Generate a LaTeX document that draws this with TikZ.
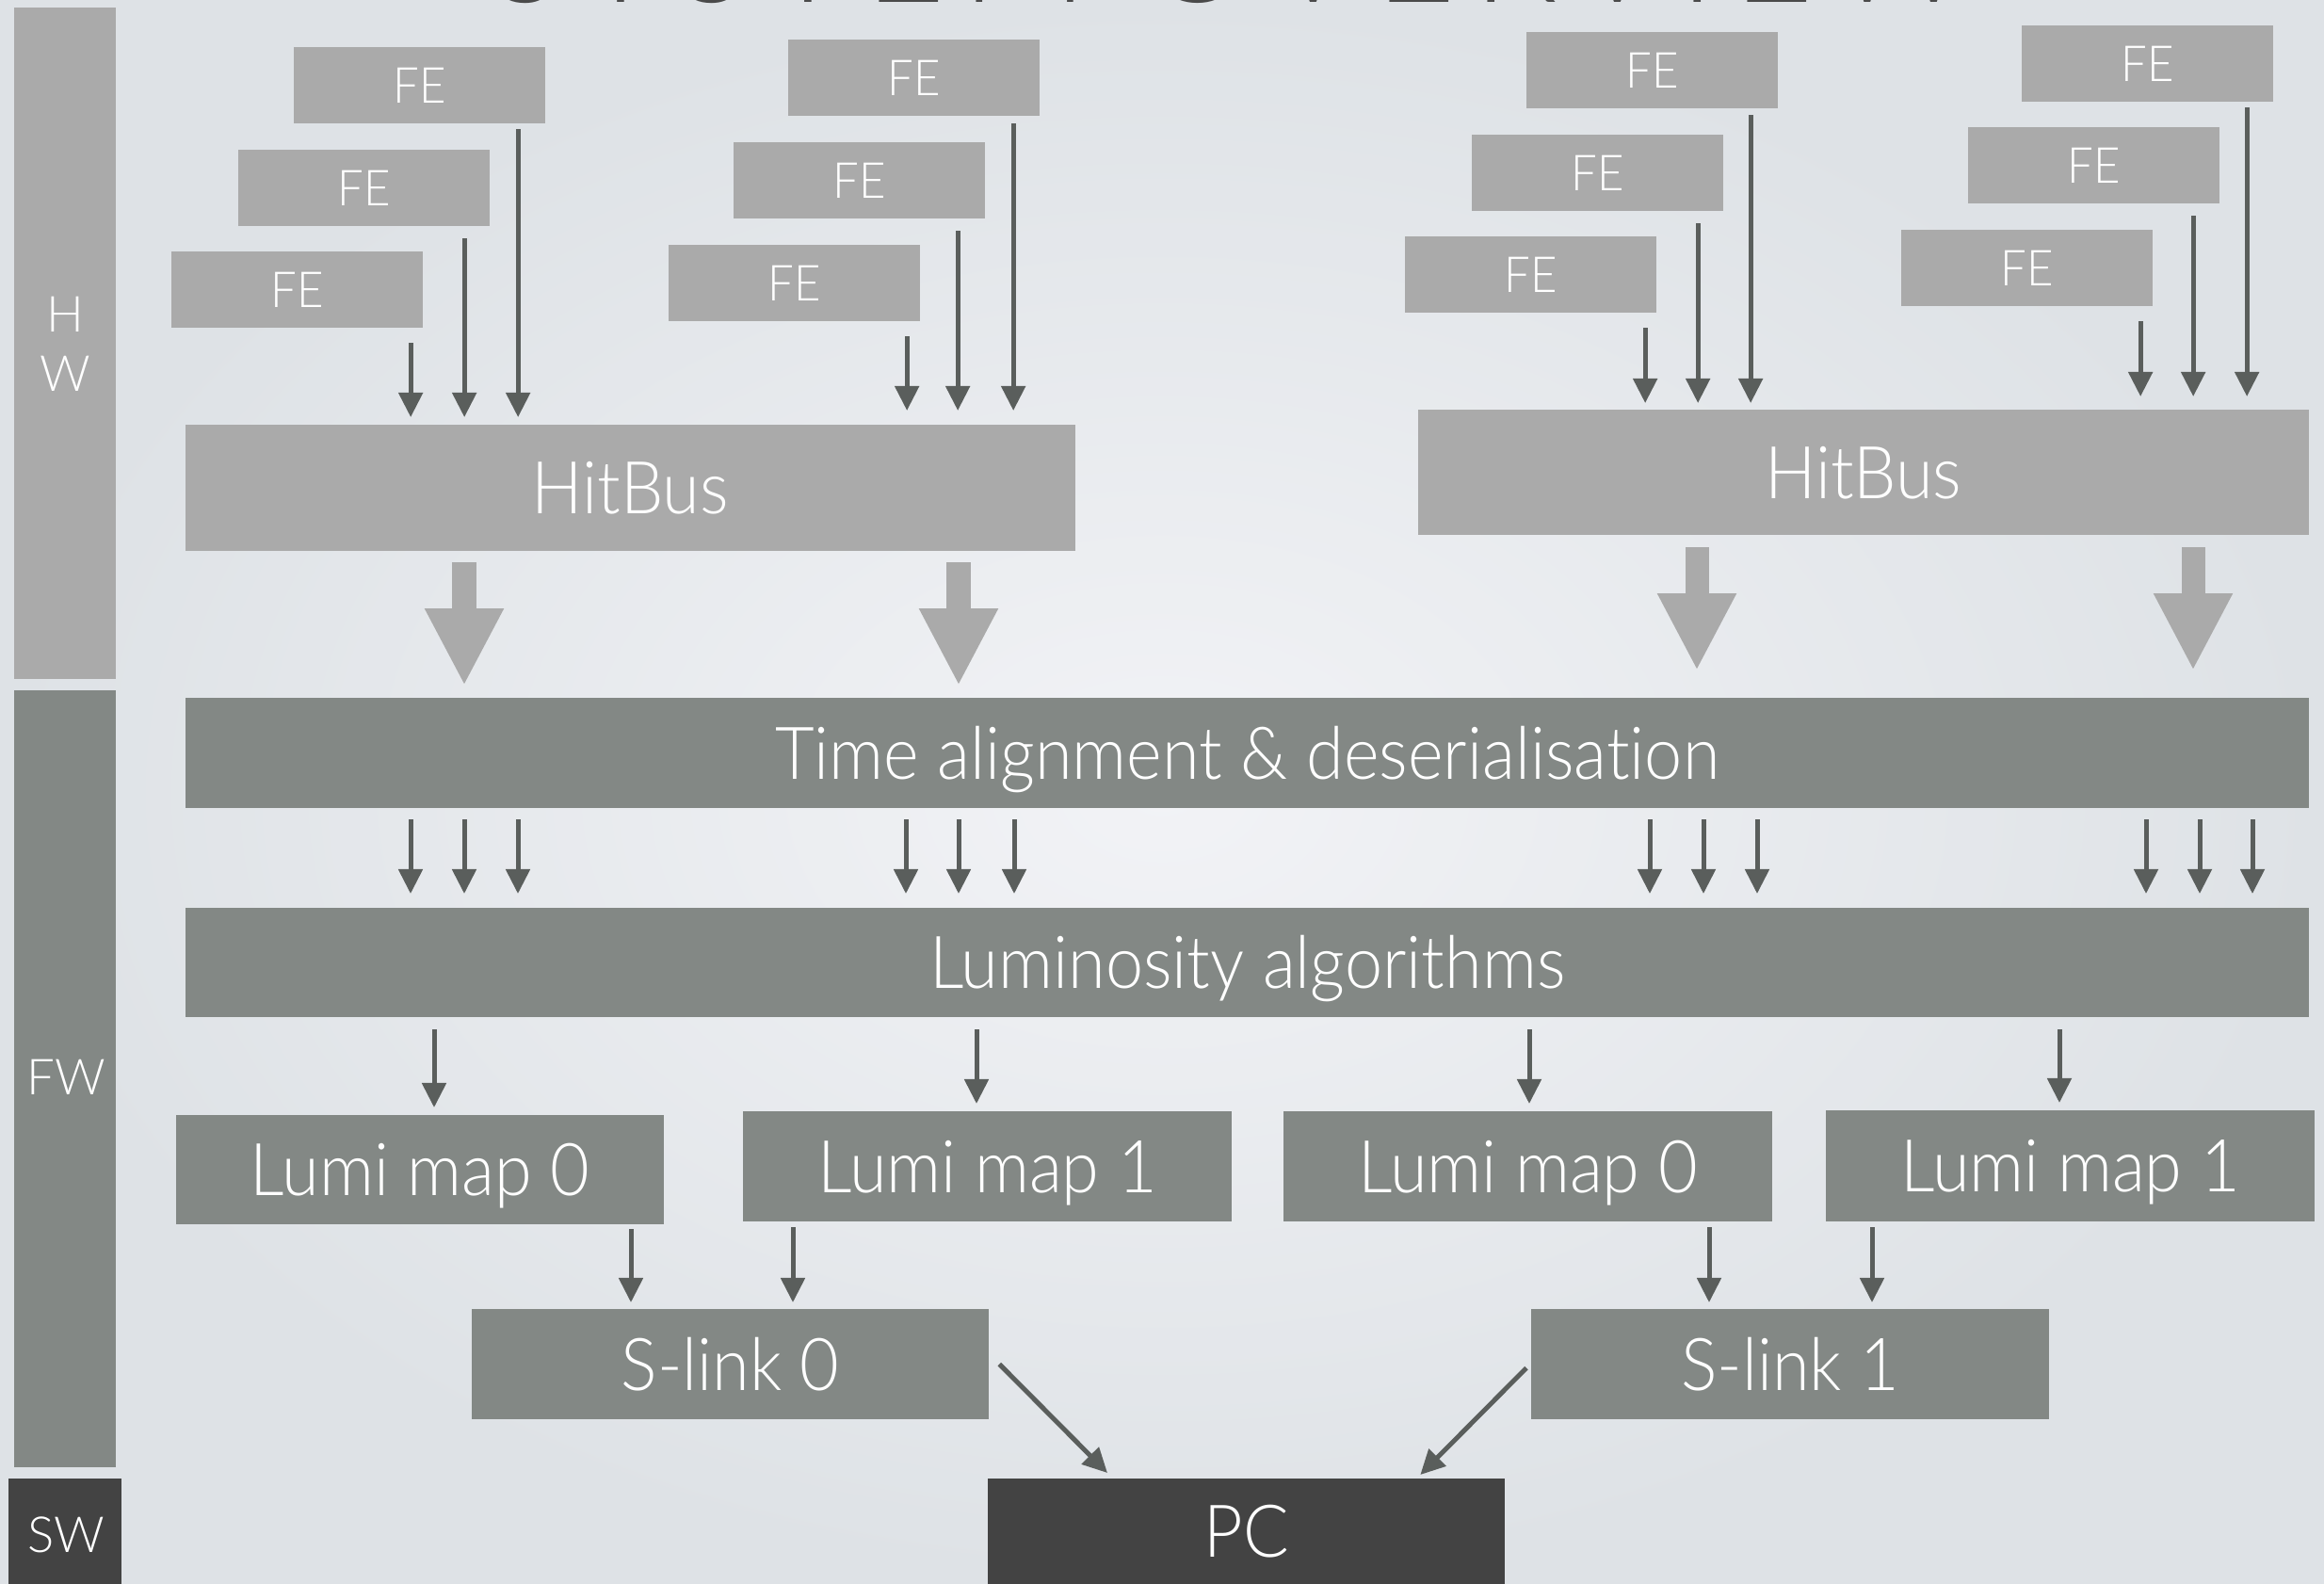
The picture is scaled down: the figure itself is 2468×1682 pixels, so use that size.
\documentclass[tikz,border=0pt]{standalone}
\usepackage{fontspec}
\IfFontExistsTF{Lato Light}{\setmainfont{Lato Light}[Ligatures=NoCommon]}{\setmainfont{Lato}[Ligatures=NoCommon]}
\usetikzlibrary{arrows.meta,calc}

\definecolor{hwgray}{HTML}{AAAAAA}
\definecolor{fwgray}{HTML}{838885}
\definecolor{swgray}{HTML}{434343}
\definecolor{arrowgray}{HTML}{5A5E5C}
\definecolor{titlegray}{HTML}{4A4A4A}
\definecolor{bginner}{HTML}{F2F3F6}
\definecolor{bgouter}{HTML}{DEE2E6}

% arrow from the lower right part of an FE box down to its HitBus
% #1 FE node, #2 x offset from its south east corner, #3 gap below the FE box,
% #4 HitBus node, #5 gap above the HitBus
\newcommand\feconn[5]{%
  \draw[sarrow] ($(#1.south east)+(#2,#3)$) -- ($(#1.south east |- #4.north)+(#2,-#5)$);}

\begin{document}
\begin{tikzpicture}[x=0.01cm,y=-0.01cm,
  blk/.style={anchor=north west, inner sep=0pt, outer sep=0pt, text=white, align=center},
  hwblk/.style={blk, fill=hwgray},
  fwblk/.style={blk, fill=fwgray},
  swblk/.style={blk, fill=swgray},
  bigtext/.style={font=\fontsize{22}{26}\selectfont\addfontfeature{FakeStretch=0.93},
    text height=15.8pt, text depth=0pt},
  febox/.style={hwblk, minimum width=2.67cm, minimum height=0.81cm,
    font=\fontsize{15}{18}\selectfont\addfontfeature{FakeStretch=0.93},
    text height=10.8pt, text depth=0pt},
  sidetext/.style={text=white, inner sep=0pt, font=\fontsize{15}{18}\selectfont,
    text height=10.8pt, text depth=0pt},
  sarrow/.style={draw=arrowgray, line width=0.05cm, -{Triangle[width=0.25cm,length=0.26cm]}},
  barrow/.style={draw=hwgray, line width=0.25cm, -{Triangle[width=0.78cm,length=0.82cm]}},
]
\useasboundingbox (0,0) rectangle (2468,1682);
\shade[inner color=bginner, outer color=bgouter] (0,0) rectangle (2468,1682);

% heading
\node[anchor=base, text=titlegray, inner sep=0pt,
  font=\fontsize{42}{48}\selectfont\addfontfeature{LetterSpace=12}] (title) at (1307,3) {SYSTEM OVERVIEW};

% layer bars on the left
\node[hwblk, minimum width=1.08cm, minimum height=7.13cm] (hwbar) at (15,8) {};
\node[sidetext] (hwH) at (69,334) {H};
\node[sidetext] (hwW) at (69,397) {W};
\node[fwblk, minimum width=1.08cm, minimum height=8.25cm] (fwbar) at (15,733) {};
\node[sidetext] (fwtxt) at (70,1144) {FW};
\node[swblk, minimum width=1.2cm, minimum height=1.2cm] (swbar) at (9,1570) {};
\node[sidetext] (swtxt) at (70,1630) {SW};

% front-end chips
\node[febox] (f1a) at (312,50) {FE};
\node[febox] (f1b) at (253,159) {FE};
\node[febox] (f1c) at (182,267) {FE};
\node[febox] (f2a) at (837,42) {FE};
\node[febox] (f2b) at (779,151) {FE};
\node[febox] (f2c) at (710,260) {FE};
\node[febox] (f3a) at (1621,34) {FE};
\node[febox] (f3b) at (1563,143) {FE};
\node[febox] (f3c) at (1492,251) {FE};
\node[febox] (f4a) at (2147,27) {FE};
\node[febox] (f4b) at (2090,135) {FE};
\node[febox] (f4c) at (2019,244) {FE};

% HitBus boards
\node[hwblk, bigtext, minimum width=9.44cm, minimum height=1.34cm] (hbL) at (197,451) {HitBus};
\node[hwblk, bigtext, minimum width=9.45cm, minimum height=1.33cm] (hbR) at (1506,435) {HitBus};

\feconn{f1a}{-29}{6}{hbL}{8}
\feconn{f1b}{-27}{13}{hbL}{8}
\feconn{f1c}{-13}{16}{hbL}{8}
\feconn{f2a}{-28}{8}{hbL}{15}
\feconn{f2b}{-29}{13}{hbL}{15}
\feconn{f2c}{-14}{16}{hbL}{15}
\feconn{f3a}{-29}{7}{hbR}{7}
\feconn{f3b}{-27}{13}{hbR}{7}
\feconn{f3c}{-12}{16}{hbR}{7}
\feconn{f4a}{-28}{6}{hbR}{14}
\feconn{f4b}{-28}{13}{hbR}{14}
\feconn{f4c}{-13}{16}{hbR}{14}

% firmware blocks
\node[fwblk, bigtext, minimum width=22.54cm, minimum height=1.17cm] (tal) at (197,741) {Time alignment \& deserialisation};
\node[fwblk, bigtext, minimum width=22.54cm, minimum height=1.16cm] (lum) at (197,964) {Luminosity algorithms};

% wide transfer arrows HitBus -> time alignment
\draw[barrow] ($(hbL.south west)+(296,12)$) -- ++(0,131);
\draw[barrow] ($(hbL.south west)+(821,12)$) -- ++(0,131);
\draw[barrow] ($(hbR.south west)+(296,13)$) -- ++(0,131);
\draw[barrow] ($(hbR.south west)+(823,13)$) -- ++(0,131);

\foreach \xx in {436,493,550,962,1018,1077,1752,1809,1866,2279,2336,2392}
  \draw[sarrow] ($(\xx,0 |- tal.south)+(0,12)$) -- ($(\xx,0 |- lum.north)+(0,-15)$);

% luminosity maps
\node[fwblk, bigtext, minimum width=5.18cm, minimum height=1.16cm] (lm0a) at (187,1184) {Lumi map 0};
\node[fwblk, bigtext, minimum width=5.19cm, minimum height=1.17cm] (lm1a) at (789,1180) {Lumi map 1};
\node[fwblk, bigtext, minimum width=5.19cm, minimum height=1.17cm] (lm0b) at (1363,1180) {Lumi map 0};
\node[fwblk, bigtext, minimum width=5.19cm, minimum height=1.18cm] (lm1b) at (1939,1179) {Lumi map 1};

\draw[sarrow] ($(461,0 |- lum.south)+(0,13)$) -- ($(461,0 |- lm0a.north)+(0,-8)$);
\draw[sarrow] ($(1037,0 |- lum.south)+(0,13)$) -- ($(1037,0 |- lm1a.north)+(0,-8)$);
\draw[sarrow] ($(1624,0 |- lum.south)+(0,13)$) -- ($(1624,0 |- lm0b.north)+(0,-8)$);
\draw[sarrow] ($(2187,0 |- lum.south)+(0,13)$) -- ($(2187,0 |- lm1b.north)+(0,-8)$);

% S-links
\node[fwblk, bigtext, minimum width=5.49cm, minimum height=1.17cm] (sl0) at (501,1390) {S-link 0};
\node[fwblk, bigtext, minimum width=5.50cm, minimum height=1.17cm] (sl1) at (1626,1390) {S-link 1};

\draw[sarrow] ($(670,0 |- lm0a.south)+(0,5)$) -- ($(670,0 |- sl0.north)+(0,-7)$);
\draw[sarrow] ($(842,0 |- lm1a.south)+(0,6)$) -- ($(842,0 |- sl0.north)+(0,-7)$);
\draw[sarrow] ($(1815,0 |- lm0b.south)+(0,6)$) -- ($(1815,0 |- sl1.north)+(0,-7)$);
\draw[sarrow] ($(1988,0 |- lm1b.south)+(0,6)$) -- ($(1988,0 |- sl1.north)+(0,-7)$);

% software
\node[swblk, bigtext, minimum width=5.49cm, minimum height=1.12cm] (pc) at (1049,1570) {PC};

\draw[sarrow] ($(sl0.east)+(11,0)$) -- ($(pc.north west)+(127,-6)$);
\draw[sarrow] ($(sl1.west)+(-5,4)$) -- ($(pc.north east)+(-90,-4)$);
\end{tikzpicture}
\end{document}
